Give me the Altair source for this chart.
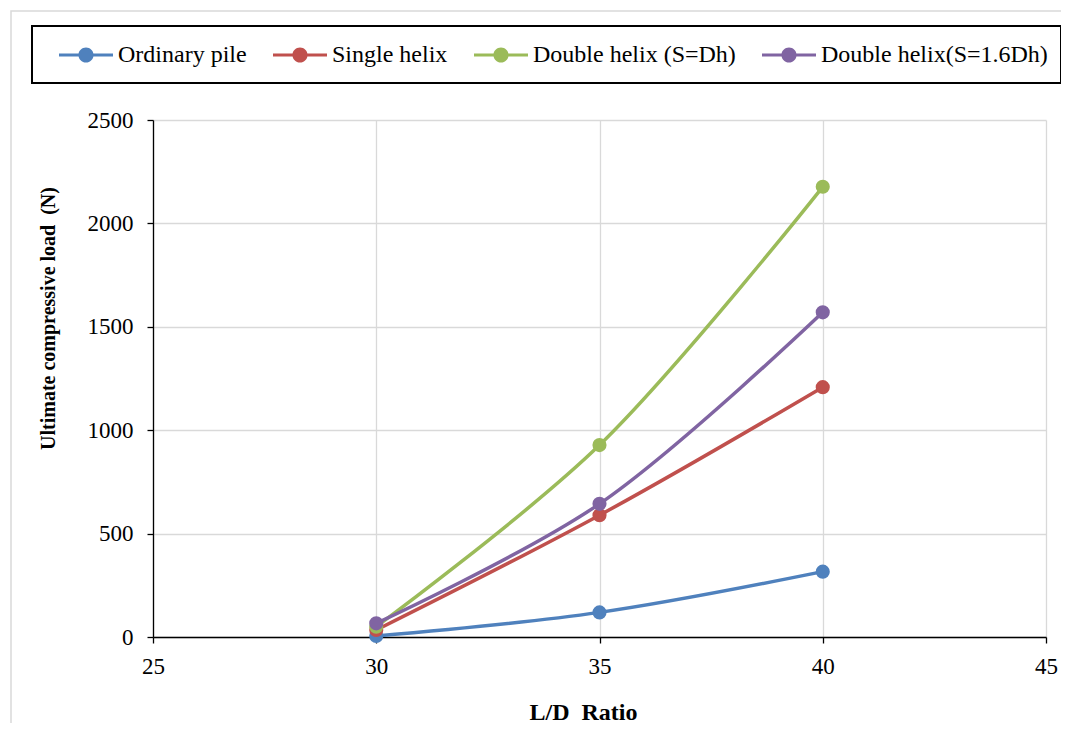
import altair as alt
import pandas as pd

ld_ratio = [30, 35, 40]
series_names = ["Ordinary pile", "Single helix", "Double helix (S=Dh)", "Double helix(S=1.6Dh)"]
ordinary_pile = [5, 119, 316]
single_helix = [34, 589, 1208]
double_helix_dh = [50, 928, 2177]
double_helix_16dh = [66, 644, 1570]
colors = ["#4f81bd", "#c0504d", "#9bbb59", "#8064a2"]
x_ticks = [25, 30, 35, 40, 45]
y_ticks = [0, 500, 1000, 1500, 2000, 2500]

rows = []
for name, vals in zip(series_names, [ordinary_pile, single_helix, double_helix_dh, double_helix_16dh]):
    for x, v in zip(ld_ratio, vals):
        rows.append({"series": name, "ld": x, "load": v})
df = pd.DataFrame(rows)

FONT = "Liberation Serif"

sym_path = ("M-1,-0.06H1V0.06H-1Z "
            "M0.28,0A0.28,0.28 0 1,1 -0.28,0A0.28,0.28 0 1,1 0.28,0Z")

xs = alt.X("ld:Q", scale=alt.Scale(domain=[25, 45], nice=False),
           axis=alt.Axis(values=x_ticks, title="L/D\u00a0 Ratio", titleX=430, titleY=75,
                         titleBaseline="middle", titleFontSize=24, titleFontWeight="bold",
                         titleFont=FONT, labelFont=FONT, labelFlush=False,
                         labelFontSize=23, labelPadding=12, tickSize=6, format="d"))
ys = alt.Y("load:Q", scale=alt.Scale(domain=[0, 2500], nice=False),
           axis=alt.Axis(values=y_ticks, title="Ultimate compressive load\u00a0 (N)",
                         titleX=-105, titleY=198, titleAngle=-90, titleBaseline="middle",
                         titleAlign="center", titleFontSize=20, titleFontWeight="bold",
                         titleFont=FONT, labelFont=FONT, labelFlush=False,
                         labelFontSize=23, labelPadding=14, tickSize=6, format="d"))
color = alt.Color("series:N", scale=alt.Scale(domain=series_names, range=colors),
                  sort=series_names,
                  legend=alt.Legend(title=None, orient="none", direction="horizontal",
                                    legendX=-94, legendY=-92, symbolType=sym_path,
                                    symbolSize=2916, symbolStrokeWidth=0, symbolOpacity=1,
                                    labelFont=FONT, labelFontSize=24, labelColor="black",
                                    labelOffset=5, columnPadding=26, padding=0,
                                    labelLimit=400))

outer = alt.Chart(pd.DataFrame({"a": [0]})).mark_rect(
    fill=None, stroke="#d9d9d9", strokeWidth=1.5
).encode(x=alt.value(-142), x2=alt.value(960), y=alt.value(-109), y2=alt.value(640))

legend_box = alt.Chart(pd.DataFrame({"a": [0]})).mark_rect(
    fill=None, stroke="black", strokeWidth=2
).encode(x=alt.value(-121), x2=alt.value(908), y=alt.value(-94), y2=alt.value(-37))

layers = [outer, legend_box]
for i, name in enumerate(series_names):
    sub = df[df.series == name]
    layers.append(alt.Chart(sub).mark_line(strokeWidth=3.5, interpolate="catmull-rom",
                                           color=colors[i]).encode(x=xs, y=ys))
    layers.append(alt.Chart(sub).mark_point(filled=True, size=200, opacity=1).encode(
        x=xs, y=ys, color=color))

chart = alt.layer(*layers).properties(
    width=893, height=517,
    autosize=alt.AutoSizeParams(type="none"),
    padding={"left": 145, "top": 112, "right": 15, "bottom": 86},
    background="white",
).configure_view(stroke=None).configure_axis(
    labelFont=FONT, titleFont=FONT, labelColor="black", titleColor="black",
    domainColor="black", domainWidth=1.3, tickColor="black", tickWidth=1.3,
    gridColor="#d9d9d9", gridWidth=1.3, grid=True
)

chart.save("out.html", embed_options={"renderer": "svg", "actions": False})
